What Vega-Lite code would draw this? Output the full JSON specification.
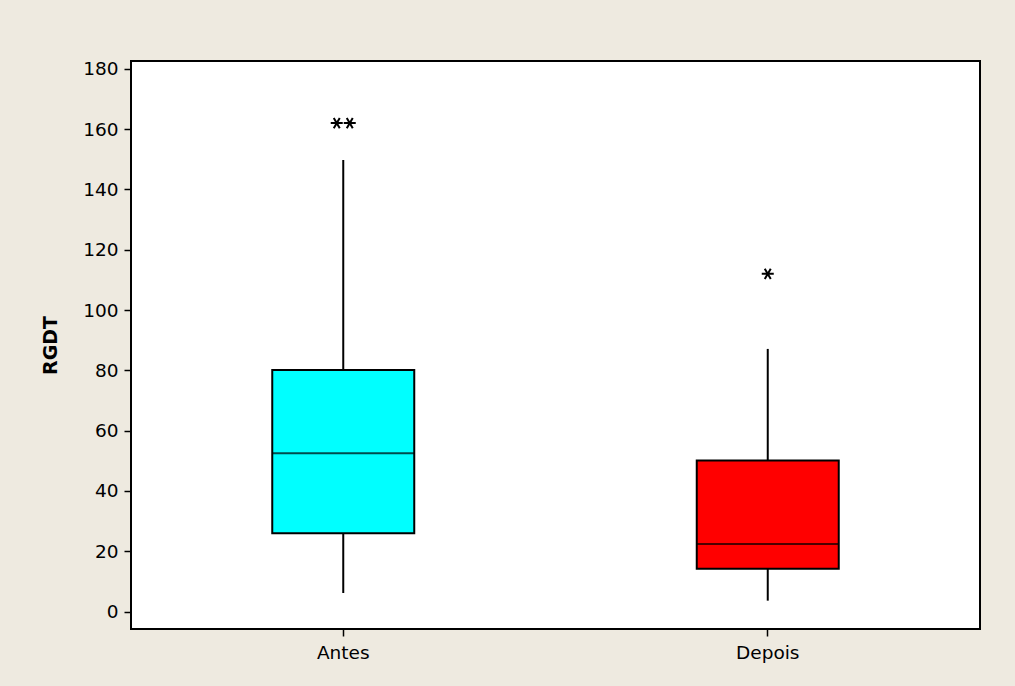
{
  "$schema": "https://vega.github.io/schema/vega-lite/v6.json",
  "width": 849,
  "height": 568,
  "autosize": "none",
  "padding": {"left": 131, "top": 61, "right": 35, "bottom": 57},
  "background": "#EEEAE0",
  "config": {
    "view": {"stroke": "#000000", "strokeWidth": 2, "fill": "#FFFFFF"},
    "font": "DejaVu Sans"
  },
  "datasets": {
    "boxes": [
      {"group": "Antes", "min": 6.1, "q1": 26.0, "median": 52.5, "q3": 80.1, "max": 149.8},
      {"group": "Depois", "min": 3.6, "q1": 14.2, "median": 22.4, "q3": 50.1, "max": 87.1}
    ],
    "outliers": [
      {"group": "Antes", "RGDT": 162, "tie": -1},
      {"group": "Antes", "RGDT": 162, "tie": 1},
      {"group": "Depois", "RGDT": 112, "tie": 0}
    ]
  },
  "encoding": {
    "x": {
      "field": "group",
      "type": "nominal",
      "sort": ["Antes", "Depois"],
      "scale": {"paddingInner": 0, "paddingOuter": 0},
      "axis": {
        "title": null,
        "labelAngle": 0,
        "labelFontSize": 18.5,
        "labelColor": "#000000",
        "labelPadding": 7,
        "tickSize": 7,
        "tickColor": "#000000",
        "tickWidth": 1.5,
        "domain": false,
        "grid": false
      }
    }
  },
  "layer": [
    {
      "data": {"name": "boxes"},
      "mark": {"type": "rule", "color": "#000000", "strokeWidth": 2},
      "encoding": {
        "y": {
          "field": "min",
          "type": "quantitative",
          "scale": {"domain": [-5.8, 182.6], "nice": false, "zero": false},
          "axis": {
            "title": "RGDT",
            "titleFontSize": 19,
            "titleFontWeight": "bold",
            "titleColor": "#000000",
            "titlePadding": 22,
            "values": [0, 20, 40, 60, 80, 100, 120, 140, 160, 180],
            "labelFontSize": 18.5,
            "labelColor": "#000000",
            "labelPadding": 6,
            "tickSize": 7,
            "tickColor": "#000000",
            "tickWidth": 1.5,
            "domain": false,
            "grid": false
          }
        },
        "y2": {"field": "max"}
      }
    },
    {
      "data": {"name": "boxes"},
      "mark": {"type": "bar", "size": 142, "stroke": "#000000", "strokeWidth": 2},
      "encoding": {
        "y": {"field": "q1", "type": "quantitative"},
        "y2": {"field": "q3"},
        "color": {
          "field": "group",
          "type": "nominal",
          "scale": {"domain": ["Antes", "Depois"], "range": ["#00FFFF", "#FF0000"]},
          "legend": null
        }
      }
    },
    {
      "data": {"name": "boxes"},
      "mark": {"type": "tick", "size": 142, "thickness": 2, "color": "#000000"},
      "encoding": {
        "y": {"field": "median", "type": "quantitative"}
      }
    },
    {
      "data": {"name": "outliers"},
      "mark": {
        "type": "point",
        "shape": "M-1,0L1,0M-0.5,-0.866L0.5,0.866M0.5,-0.866L-0.5,0.866",
        "size": 144,
        "filled": false,
        "stroke": "#000000",
        "strokeWidth": 2,
        "opacity": 1
      },
      "encoding": {
        "y": {"field": "RGDT", "type": "quantitative"},
        "xOffset": {
          "field": "tie",
          "type": "quantitative",
          "scale": {"domain": [-32.65, 32.65], "nice": false, "zero": false}
        }
      }
    }
  ]
}
